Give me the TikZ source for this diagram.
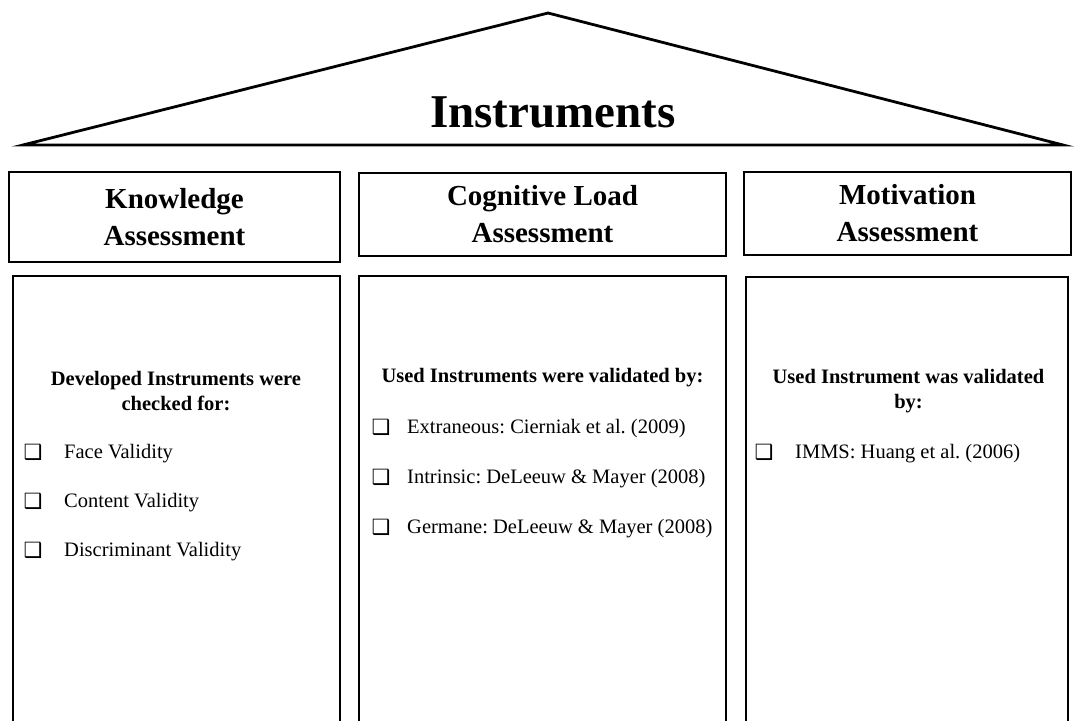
\documentclass[tikz,border=0pt]{standalone}
\usepackage{fontspec}
\setmainfont{Liberation Serif}
\newfontfamily\dejavu{DejaVu Sans}
\newcommand{\chkbox}{{\dejavu\symbol{"2751}}}
\frenchspacing

\begin{document}
\begin{tikzpicture}[x=1pt,y=-1pt,
    frame/.style={draw, line width=2.8pt},
    head/.style={frame, align=center, inner sep=0pt,
      font=\fontsize{29}{37}\selectfont\bfseries},
    lead/.style={align=center, inner sep=0pt,
      font=\fontsize{20.5}{25}\selectfont\bfseries},
    item/.style={anchor=base west, inner sep=0pt,
      font=\fontsize{20.5}{25}\selectfont},
    tick/.style={anchor=base, inner sep=0pt,
      font=\fontsize{21}{21}\selectfont}]
  \useasboundingbox (0,0) rectangle (1075,720);
  \clip (0,0) rectangle (1075,720);
  % roof
  \draw[line width=2.8pt] (23,145) -- (548,13) -- (1063,145) -- cycle;
  \node[anchor=base, inner sep=0pt, font=\fontsize{47}{47}\selectfont\bfseries]
    (title) at (553,127) {Instruments};
  % column heads
  \node[head, minimum width=331, minimum height=90] (know) at (174.5,217)
    {Knowledge\\Assessment};
  \node[head, minimum width=367, minimum height=83] (cogn) at (542.5,214.5)
    {Cognitive Load\\Assessment};
  \node[head, minimum width=327, minimum height=83] (motv) at (907.5,213.5)
    {Motivation\\Assessment};
  % column bodies
  \draw[frame] (13,276) rectangle (340,760);
  \draw[frame] (359,276) rectangle (726,760);
  \draw[frame] (746,277) rectangle (1068,760);
  % knowledge
  \node[lead] (klead) at (176,391) {Developed Instruments were\\checked for:};
  \node[tick] (kt1) at (33,459) {\chkbox};
  \node[item] (k1) at (64,458) {Face Validity};
  \node[tick] (kt2) at (33,508) {\chkbox};
  \node[item] (k2) at (64,507) {Content Validity};
  \node[tick] (kt3) at (33,557) {\chkbox};
  \node[item] (k3) at (64,556) {Discriminant Validity};
  % cognitive load
  \node[lead] (clead) at (542.5,378) {Used Instruments were validated by:};
  \node[tick] (ct1) at (381,434) {\chkbox};
  \node[item] (c1) at (407,433) {Extraneous: Cierniak et al. (2009)};
  \node[tick] (ct2) at (381,484) {\chkbox};
  \node[item] (c2) at (407,483) {Intrinsic: DeLeeuw \& Mayer (2008)};
  \node[tick] (ct3) at (381,534) {\chkbox};
  \node[item] (c3) at (407,533) {Germane: DeLeeuw \& Mayer (2008)};
  % motivation
  \node[lead] (mlead) at (908.5,391) {Used Instrument was validated\\by:};
  \node[tick] (mt1) at (764,459) {\chkbox};
  \node[item] (m1) at (795,458) {IMMS: Huang et al. (2006)};
\end{tikzpicture}
\end{document}
